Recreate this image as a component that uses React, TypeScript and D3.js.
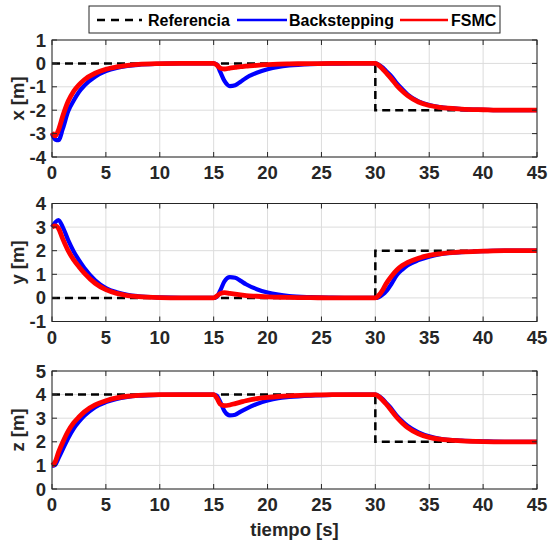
import React from 'react';
import * as d3 from 'd3';

const T = [0, 0.3, 0.6, 1, 1.5, 2, 2.5, 3, 4, 5, 6, 7, 8, 10, 12, 15, 15.3, 15.6, 16, 16.5, 17, 17.5, 18, 19, 20, 21, 22, 24, 26, 28, 30, 30.3, 30.7, 31, 31.5, 32, 32.5, 33, 34, 35, 36, 38, 40, 42, 45];

const xBack = [-3.0, -3.25, -3.28, -2.8, -2.05, -1.6, -1.22, -0.95, -0.57, -0.33, -0.19, -0.11, -0.06, -0.02, 0, 0, -0.05, -0.35, -0.75, -0.97, -0.93, -0.78, -0.62, -0.4, -0.25, -0.15, -0.09, -0.03, -0.01, 0, 0, -0.05, -0.18, -0.32, -0.55, -0.85, -1.1, -1.33, -1.62, -1.78, -1.87, -1.95, -1.98, -2.0, -2.0];
const xFsmc = [-2.95, -3.1, -2.85, -2.25, -1.62, -1.2, -0.92, -0.7, -0.42, -0.25, -0.15, -0.08, -0.04, -0.01, 0, 0, -0.08, -0.2, -0.24, -0.2, -0.17, -0.14, -0.12, -0.08, -0.05, -0.03, -0.02, -0.01, 0, 0, 0, -0.08, -0.25, -0.4, -0.66, -0.95, -1.18, -1.38, -1.65, -1.8, -1.88, -1.95, -1.98, -2.0, -2.0];

const yBack = [3.0, 3.2, 3.3, 3.0, 2.45, 1.98, 1.6, 1.27, 0.75, 0.42, 0.24, 0.13, 0.07, 0.02, 0, 0, 0.05, 0.3, 0.7, 0.88, 0.85, 0.72, 0.58, 0.37, 0.23, 0.14, 0.08, 0.03, 0.01, 0, 0, 0.03, 0.15, 0.28, 0.6, 0.97, 1.2, 1.38, 1.6, 1.75, 1.85, 1.94, 1.98, 2.0, 2.0];
const yFsmc = [3.0, 3.05, 2.95, 2.5, 2.0, 1.62, 1.32, 1.05, 0.62, 0.35, 0.19, 0.1, 0.05, 0.01, 0, 0, 0.08, 0.18, 0.22, 0.19, 0.16, 0.13, 0.1, 0.07, 0.04, 0.03, 0.02, 0.01, 0, 0, 0, 0.1, 0.35, 0.6, 0.92, 1.18, 1.37, 1.5, 1.68, 1.8, 1.87, 1.95, 1.98, 2.0, 2.0];

const zBack = [0.98, 1.02, 1.3, 1.68, 2.15, 2.55, 2.85, 3.1, 3.47, 3.68, 3.82, 3.9, 3.95, 3.99, 4, 4, 3.95, 3.7, 3.3, 3.12, 3.15, 3.28, 3.4, 3.6, 3.75, 3.85, 3.9, 3.96, 3.99, 4, 4, 3.95, 3.8, 3.65, 3.4, 3.1, 2.87, 2.67, 2.4, 2.23, 2.13, 2.05, 2.02, 2.0, 2.0];
const zFsmc = [1.0, 1.15, 1.55, 1.98, 2.45, 2.8, 3.05, 3.27, 3.56, 3.74, 3.86, 3.93, 3.97, 4.0, 4, 4, 3.85, 3.6, 3.53, 3.56, 3.62, 3.68, 3.74, 3.83, 3.88, 3.92, 3.95, 3.98, 4, 4, 4, 3.92, 3.75, 3.6, 3.32, 3.03, 2.8, 2.6, 2.34, 2.19, 2.11, 2.04, 2.01, 2.0, 2.0];

// reference: [time, value] breakpoints
const refT = [0, 30, 30, 45];
const xRef = [0, 0, -2, -2];
const yRef = [0, 0, 2, 2];
const zRef = [4, 4, 2, 2];

const xTicks = [0, 5, 10, 15, 20, 25, 30, 35, 40, 45];
const panelLabels = ['x [m]', 'y [m]', 'z [m]'];
const panelDomains: [number, number][] = [[-4, 1], [-1, 4], [0, 5]];
const legendLabels = ['Referencia', 'Backstepping', 'FSMC'];

const COLORS = { ref: '#000000', back: '#0000ff', fsmc: '#ff0000' };
const FONT = '"Liberation Sans", Arial, Helvetica, sans-serif';
const AXIS = '#262626';
const GRID = '#dcdcdc';
const FS = 18.5;

const LEFT = 52;
const RIGHT = 537;
const panels = [
  { top: 40, bottom: 157 },
  { top: 203.5, bottom: 321.5 },
  { top: 371, bottom: 489 },
];

const seriesData = [
  { ref: xRef, back: xBack, fsmc: xFsmc },
  { ref: yRef, back: yBack, fsmc: yFsmc },
  { ref: zRef, back: zBack, fsmc: zFsmc },
];

function Panel({ idx }: { idx: number }) {
  const p = panels[idx];
  const x = d3.scaleLinear().domain([0, 45]).range([LEFT, RIGHT]);
  const y = d3.scaleLinear().domain(panelDomains[idx]).range([p.bottom, p.top]);
  const yTicks = d3.range(panelDomains[idx][0], panelDomains[idx][1] + 0.001, 1);
  const s = seriesData[idx];
  const smooth = d3
    .line<number>()
    .x((_, i) => x(T[i]))
    .y((v) => y(v))
    .curve(d3.curveMonotoneX);
  const refLine = d3
    .line<number>()
    .x((_, i) => x(refT[i]))
    .y((v) => y(v));
  const tickLen = 5;
  return (
    <g>
      {xTicks.map((t) => (
        <line key={'gx' + t} x1={x(t)} x2={x(t)} y1={p.top} y2={p.bottom} stroke={GRID} strokeWidth={1} />
      ))}
      {yTicks.map((t) => (
        <line key={'gy' + t} x1={LEFT} x2={RIGHT} y1={y(t)} y2={y(t)} stroke={GRID} strokeWidth={1} />
      ))}
      <path d={refLine(s.ref) || ''} fill="none" stroke={COLORS.ref} strokeWidth={2.5} strokeDasharray="8,5" />
      <path d={smooth(s.back) || ''} fill="none" stroke={COLORS.back} strokeWidth={4.2} strokeLinejoin="round" />
      <path d={smooth(s.fsmc) || ''} fill="none" stroke={COLORS.fsmc} strokeWidth={4.8} strokeLinejoin="round" />
      <rect x={LEFT} y={p.top} width={RIGHT - LEFT} height={p.bottom - p.top} fill="none" stroke={AXIS} strokeWidth={1} />
      {xTicks.map((t) => (
        <g key={'tx' + t}>
          <line x1={x(t)} x2={x(t)} y1={p.bottom} y2={p.bottom - tickLen} stroke={AXIS} />
          <line x1={x(t)} x2={x(t)} y1={p.top} y2={p.top + tickLen} stroke={AXIS} />
          <text x={x(t)} y={p.bottom + 22} textAnchor="middle" fontFamily={FONT} fontWeight="bold" fontSize={FS} fill={AXIS}>
            {t}
          </text>
        </g>
      ))}
      {yTicks.map((t) => (
        <g key={'ty' + t}>
          <line x1={LEFT} x2={LEFT + tickLen} y1={y(t)} y2={y(t)} stroke={AXIS} />
          <line x1={RIGHT} x2={RIGHT - tickLen} y1={y(t)} y2={y(t)} stroke={AXIS} />
          <text x={46} y={y(t) + 6.5} textAnchor="end" fontFamily={FONT} fontWeight="bold" fontSize={FS} fill={AXIS}>
            {t}
          </text>
        </g>
      ))}
      <text
        transform={`translate(24, ${(p.top + p.bottom) / 2}) rotate(-90)`}
        textAnchor="middle"
        fontFamily={FONT}
        fontWeight="bold"
        fontSize={FS}
        fill={AXIS}
      >
        {panelLabels[idx]}
      </text>
    </g>
  );
}

export default function App() {
  return (
    <svg width={548} height={545} style={{ position: 'absolute', left: 0, top: 0, background: '#fff' }}>
      <rect x={0} y={0} width={548} height={545} fill="#fff" />
      {[0, 1, 2].map((i) => (
        <Panel key={i} idx={i} />
      ))}
      <text x={(LEFT + RIGHT) / 2} y={536} textAnchor="middle" fontFamily={FONT} fontWeight="bold" fontSize={FS} fill={AXIS}>
        tiempo [s]
      </text>
      <g>
        <rect x={89} y={6} width={411} height={27} fill="#fff" stroke={AXIS} strokeWidth={1} />
        <line x1={97} x2={142} y1={20} y2={20} stroke={COLORS.ref} strokeWidth={2.5} strokeDasharray="8,6" />
        <text x={148} y={26} fontFamily={FONT} fontWeight="bold" fontSize={16} fill="#000">{legendLabels[0]}</text>
        <line x1={237} x2={287} y1={20} y2={20} stroke={COLORS.back} strokeWidth={2.5} />
        <text x={289} y={26} fontFamily={FONT} fontWeight="bold" fontSize={16} fill="#000">{legendLabels[1]}</text>
        <line x1={400} x2={448} y1={20} y2={20} stroke={COLORS.fsmc} strokeWidth={2.5} />
        <text x={451} y={26} fontFamily={FONT} fontWeight="bold" fontSize={16} fill="#000">{legendLabels[2]}</text>
      </g>
    </svg>
  );
}
